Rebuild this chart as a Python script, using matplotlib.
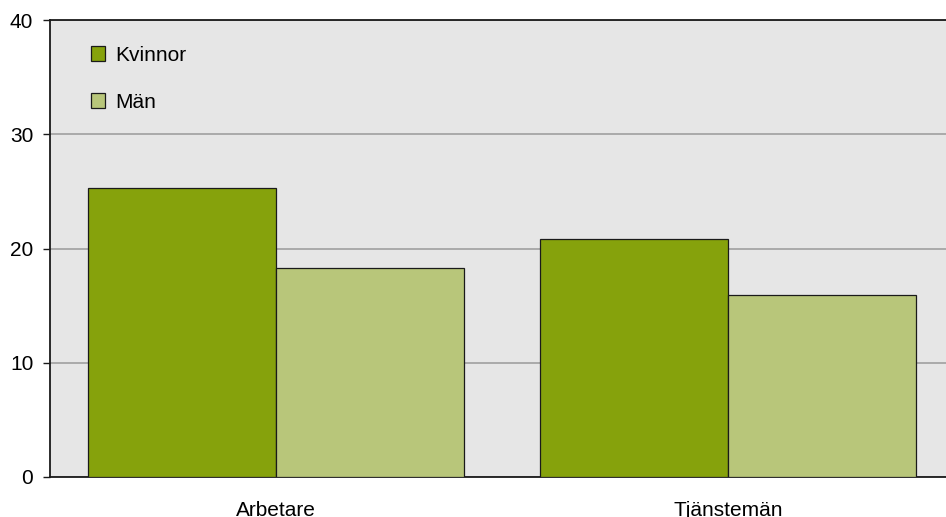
import matplotlib.pyplot as plt
from matplotlib.patches import Patch
import numpy as np

plt.rcParams['font.family'] = ['Liberation Sans', 'DejaVu Sans']

categories = ['Arbetare', 'Tjänstemän']
kvinnor = [25.3, 20.8]
man = [18.3, 15.9]
yticks = [0, 10, 20, 30, 40]

col_k = '#86a20c'
col_m = '#b8c67a'

fig = plt.figure(figsize=(9.46, 5.17), dpi=100)
ax = fig.add_axes([50 / 946, 40 / 517, 904 / 946, 457 / 517])
ax.set_facecolor('#e6e6e6')

x = np.arange(len(categories))
w = 0.416
ax.bar(x - w / 2, kvinnor, w, color=col_k, edgecolor='#1a1a1a', linewidth=0.9, zorder=3)
ax.bar(x + w / 2, man, w, color=col_m, edgecolor='#1a1a1a', linewidth=0.9, zorder=3)

ax.set_xlim(-0.5, 1.5)
ax.set_ylim(0, 40)
ax.set_yticks(yticks)
ax.set_xticks(x)
ax.set_xticklabels(categories)
ax.yaxis.grid(True, color='#a0a0a0', linewidth=1.2, zorder=0)
ax.set_axisbelow(True)

ax.spines['right'].set_visible(False)
for s in ['left', 'bottom', 'top']:
    ax.spines[s].set_color('#1a1a1a')
    ax.spines[s].set_linewidth(1.3)

ax.tick_params(axis='y', length=5, width=1, pad=7, labelsize=15, color='#1a1a1a')
ax.tick_params(axis='x', length=0, pad=17, labelsize=15)

handles = [Patch(facecolor=col_k, edgecolor='#1a1a1a', linewidth=0.9),
           Patch(facecolor=col_m, edgecolor='#1a1a1a', linewidth=0.9)]
ax.legend(handles, ['Kvinnor', 'Män'], loc='upper left', bbox_to_anchor=(0.045, 0.944),
          frameon=False, fontsize=15, handlelength=0.7, handleheight=0.7,
          handletextpad=0.5, labelspacing=1.35, borderpad=0, borderaxespad=0)

fig.savefig('out.png', dpi=100)
